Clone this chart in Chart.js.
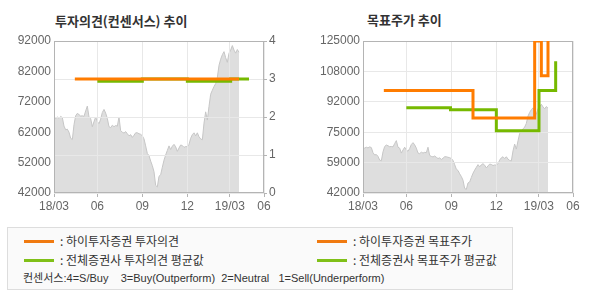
<!DOCTYPE html>
<html>
<head>
<meta charset="utf-8">
<script src="https://cdn.jsdelivr.net/npm/chart.js@4.4.0/dist/chart.umd.min.js"></script>
<style>
  body { margin: 0; background: #fff; font-family: "Noto Sans CJK KR", sans-serif; }
  .title { position: absolute; font-size: 13px; font-weight: bold; color: #333; line-height: 16px; }
  canvas { position: absolute; }
  #legend { position: absolute; left: 7px; top: 227px; width: 504px; height: 61px; border: 1px solid #ddd; background: #fafafa; font-size: 12px; color: #333; }
  .item { position: absolute; white-space: pre; line-height: 14px; }
  .note { font-family: "Liberation Sans", "Noto Sans CJK KR", sans-serif; font-size: 11px; }
  .swatch { position: absolute; width: 30px; height: 3px; }
</style>
</head>
<body>
<div class="title" style="left:55px;top:13px;">투자의견(컨센서스) 추이</div>
<div class="title" style="left:367px;top:12px;">목표주가 추이</div>
<canvas id="opinion-chart" width="295" height="190" style="left:0;top:30px;"></canvas>
<canvas id="target-chart" width="295" height="190" style="left:295px;top:30px;"></canvas>
<div id="legend">
  <div class="swatch" style="left:16px;top:12px;background:#f07a10;"></div>
  <div class="item" style="left:52px;top:6px;">: 하이투자증권 투자의견</div>
  <div class="swatch" style="left:309px;top:12px;background:#f07a10;"></div>
  <div class="item" style="left:345px;top:6px;">: 하이투자증권 목표주가</div>
  <div class="swatch" style="left:16px;top:31px;background:#80c018;"></div>
  <div class="item" style="left:52px;top:25px;">: 전체증권사 투자의견 평균값</div>
  <div class="swatch" style="left:309px;top:31px;background:#80c018;"></div>
  <div class="item" style="left:345px;top:25px;">: 전체증권사 목표주가 평균값</div>
  <div class="item note" style="left:15px;top:43px;">컨센서스:4=S/Buy    3=Buy(Outperform)  2=Neutral   1=Sell(Underperform)</div>
</div>
<script>
// x axis (units ~ 2.4 trading days)
var xTickPos = [0, 26, 53, 80, 105.5, 126];
var xTickLabels = ["18/03", "06", "09", "12", "19/03", "06"];

// stock price, one value per x unit
var price = [
  66800, 66500, 67000, 66600, 67200, 66800, 64000, 62800, 63000, 62000,
  60000, 59600, 64500, 67400, 68200, 67800, 67300, 67400, 67200, 69000,
  70600, 67000, 66500, 63800, 65500, 67000, 65500, 64800, 66300, 68500,
  69500, 68300, 66500, 63800, 63500, 64300, 63800, 64200, 64000, 67000,
  62500, 62000, 61700, 62200, 61500, 60800, 61200, 60300, 61000, 61800,
  61800, 61500, 61300, 60800, 59800, 57500, 55000, 54300, 52500, 51000,
  49000, 44500, 44000, 47500, 48000, 50500, 52800, 54500, 56000, 57500,
  56300, 57400, 58000, 57200, 55700, 56800, 57800, 57600, 57000, 57300,
  57200, 58000, 60000, 61200, 61800, 60800, 61800, 60500, 59800, 59500,
  65000, 68700, 66000, 70500, 74500, 75800, 77000, 78000, 80000, 84000,
  86000, 87500, 88500, 86500, 85000, 88000, 89000, 90500, 89000, 88000,
  89200, 88300
];

// investment opinion (4=S/Buy ... 1=Sell)
var opinionMineX = [12.5, 111];
var opinionMine = [3, 3];
var opinionAvgX = [26, 53, 80, 106, 117];
var opinionAvg = [2.94, 3, 2.94, 3, 3];

// target price
var targetMineX = [12.5, 66, 103, 107, 111];
var targetMine = [98000, 83000, 125000, 106000, 125000];
var targetAvgX = [26, 52.5, 80, 105.6, 115.6];
var targetAvg = [88500, 87400, 76000, 98000, 114000];

// axis labels
var priceTicks = [42000, 52000, 62000, 72000, 82000, 92000];
var opinionTicks = [0, 1, 2, 3, 4];
var targetTicks = [42000, 59000, 75000, 92000, 108000, 125000];

var ORANGE = "#ff7c00";
var GREEN = "#76b900";
var GRID = "#e8e8e8";
var BORDER = "#b4b4b4";
var tickFont = { family: "Liberation Sans", size: 12 };

function points(xs, ys) {
  return xs.map(function (x, i) { return { x: x, y: ys[i] }; });
}

var pricePoints = price.map(function (v, i) { return { x: i, y: v }; });

// draws the frame and repeats the grid over the grey price area
var framePlugin = {
  id: "frame",
  afterDatasetDraw: function (chart, args) {
    if (args.meta.label !== "price") return;
    Object.values(chart.scales).forEach(function (s) {
      if (s.options.grid.display) s.drawGrid(chart.chartArea);
    });
    var a = chart.chartArea, ctx = chart.ctx;
    ctx.save();
    ctx.strokeStyle = BORDER;
    ctx.lineWidth = 1;
    ctx.strokeRect(Math.round(a.left) + 0.5, Math.round(a.top) + 0.5,
      Math.round(a.right - a.left) - 1, Math.round(a.bottom - a.top) - 1);
    ctx.restore();
  }
};

function xScale() {
  return {
    type: "linear", min: 0, max: 126,
    afterBuildTicks: function (s) { s.ticks = xTickPos.map(function (v) { return { value: v }; }); },
    afterFit: function (s) { s.height = 27; },
    border: { display: false },
    grid: { color: GRID, tickLength: 4, tickColor: BORDER },
    ticks: {
      autoSkip: false, maxRotation: 0, padding: 2, color: "#666", font: tickFont,
      callback: function (v, i) { return xTickLabels[i]; }
    }
  };
}

function priceDataset(axis) {
  return {
    label: "price", data: pricePoints, yAxisID: axis, order: 3,
    borderColor: "#c6c6c6", borderWidth: 1, backgroundColor: "#dedede",
    fill: "start", pointRadius: 0, tension: 0
  };
}

function stepDataset(label, data, color, axis, order) {
  return {
    label: label, data: data, yAxisID: axis, order: order,
    borderColor: color, borderWidth: 3, fill: false,
    pointRadius: 0, stepped: "before"
  };
}

Chart.defaults.animation = false;
Chart.defaults.devicePixelRatio = 1;

new Chart(document.getElementById("opinion-chart"), {
  type: "line",
  data: {
    datasets: [
      priceDataset("y"),
      stepDataset("하이투자증권 투자의견", points(opinionMineX, opinionMine), ORANGE, "y1", 1),
      stepDataset("전체증권사 투자의견 평균값", points(opinionAvgX, opinionAvg), GREEN, "y1", 2)
    ]
  },
  options: {
    responsive: false,
    layout: { padding: { top: 11 } },
    plugins: { legend: { display: false }, tooltip: { enabled: false } },
    scales: {
      x: xScale(),
      y: {
        position: "left", min: 42000, max: 92000,
        afterBuildTicks: function (s) { s.ticks = priceTicks.map(function (v) { return { value: v }; }); },
        afterFit: function (s) { s.width = 54; },
        border: { display: false },
        grid: { display: false, drawTicks: false },
        ticks: { padding: 3, color: "#666", font: tickFont, callback: function (v) { return String(v); } }
      },
      y1: {
        position: "right", min: 0, max: 4,
        afterBuildTicks: function (s) { s.ticks = opinionTicks.map(function (v) { return { value: v }; }); },
        afterFit: function (s) { s.width = 31; },
        border: { display: false },
        grid: { color: GRID, tickLength: 3, tickColor: BORDER },
        ticks: { padding: 2, color: "#666", font: tickFont }
      }
    }
  },
  plugins: [framePlugin]
});

new Chart(document.getElementById("target-chart"), {
  type: "line",
  data: {
    datasets: [
      priceDataset("y"),
      stepDataset("하이투자증권 목표주가", points(targetMineX, targetMine), ORANGE, "y", 1),
      stepDataset("전체증권사 목표주가 평균값", points(targetAvgX, targetAvg), GREEN, "y", 2)
    ]
  },
  options: {
    responsive: false,
    layout: { padding: { top: 11, right: 17 } },
    plugins: { legend: { display: false }, tooltip: { enabled: false } },
    scales: {
      x: xScale(),
      y: {
        position: "left", min: 42000, max: 125000,
        afterBuildTicks: function (s) {
          s.ticks = targetTicks.map(function (v, i) {
            return { value: 42000 + i * (125000 - 42000) / (targetTicks.length - 1) };
          });
        },
        afterFit: function (s) { s.width = 68; },
        border: { display: false },
        grid: { color: GRID, drawTicks: false },
        ticks: { padding: 3, color: "#666", font: tickFont, callback: function (v, i) { return String(targetTicks[i]); } }
      }
    }
  },
  plugins: [framePlugin]
});
</script>
</body>
</html>
